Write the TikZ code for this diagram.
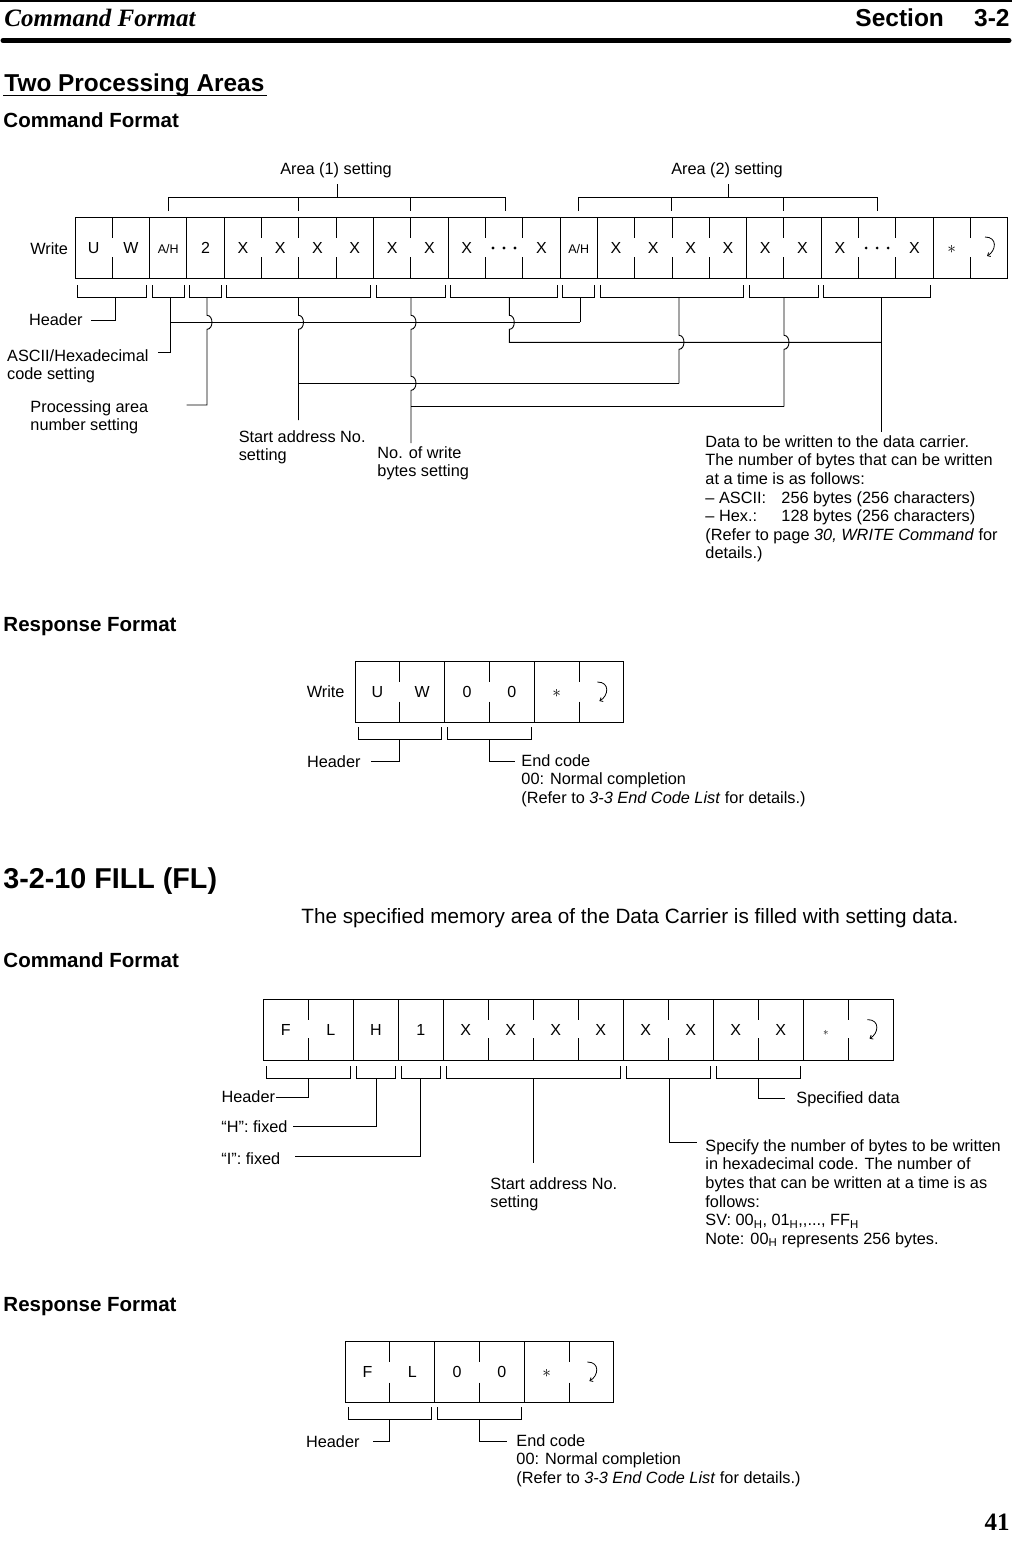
\documentclass[tikz,border=0pt]{standalone}
\usepackage{fontspec}
\setmainfont{Liberation Sans}
\newfontfamily\timesfam{Liberation Serif}
\usetikzlibrary{arrows.meta}
\newcommand\lblfont{\fontsize{16.3}{18.6}\selectfont}
\newcommand\cellfont{\fontsize{16}{18}\selectfont}
\newcommand\ahfont{\fontsize{12.5}{14}\selectfont}
\newcommand\headfont{\fontsize{20.5}{24}\selectfont\bfseries}
\newcommand\bump[2]{-- ({#1},{#2-7}) .. controls ({#1+6.6},{#2-7}) and ({#1+6.6},{#2+7}) .. ({#1},{#2+7})}
\newcommand\retsym[2]{\draw[retarrow] ({#1-4},{#2-10}) .. controls ({#1+9},{#2-10}) and ({#1+7},{#2+4}) .. ({#1-2},{#2+9});}
\begin{document}
\begin{tikzpicture}[x=1pt,y=-1pt,line width=0.9pt,
  cell/.style={inner sep=0pt,text height=11.5pt,text depth=0pt,font=\cellfont},
  lbl/.style={inner sep=0pt,font=\lblfont,align=left,anchor=north west},
  slbl/.style={inner sep=0pt,font=\lblfont},
  head/.style={inner sep=0pt,font=\headfont,anchor=base west},
  retarrow/.style={line width=0.8pt,-{Straight Barb[length=2.5pt,width=4.5pt]}}]
\useasboundingbox (0,0) rectangle (1012,1558);

% ---------- page header ----------
\draw[line width=2pt] (0,1) -- (1012,1);
\node[anchor=base west,inner sep=0pt,font=\fontsize{25}{28}\selectfont\timesfam\bfseries\itshape] (pghead) at (4,26.3) {Command Format};
\node[anchor=base west,inner sep=0pt,font=\fontsize{24.5}{28}\selectfont\bfseries] (sect) at (855,26.6) {Section};
\node[anchor=base east,inner sep=0pt,font=\fontsize{24.5}{28}\selectfont\bfseries] (sectno) at (1010,26.6) {3-2};
\draw[line width=5pt,line cap=round] (3,40.5) -- (1009,40.5);

\node[anchor=base west,inner sep=0pt,font=\fontsize{24.4}{28}\selectfont\bfseries] (two) at (4,91.7) {Two Processing Areas};
\draw[line width=1.6pt] (3,95.5) -- (267,95.5);
\node[head] (cf1) at (3,127.3) {Command Format};

% ---------- top command row ----------
\node[slbl,anchor=base east] (wr1) at (68.5,254.8) {Write};
\draw (75,217) rectangle (1007.75,278);
\foreach \k in {2,3,4,8,10,13,14,18,20,23}
  \draw ({75+37.31*\k},217) -- ++(0,61);
\foreach \k in {1,5,6,7,9,11,12,15,16,17,19,21,22,24}
  \draw ({75+37.31*\k},217) -- ++(0,21) ({75+37.31*\k},257) -- ++(0,21);
\foreach \t [count=\i from 0] in {U,W,{\ahfont A/H},2,X,X,X,X,X,X,X,{},X,{\ahfont A/H},X,X,X,X,X,X,X,{},X,{$\ast$},{}}
  \node[cell] (t\i) at ({75+37.31*(\i+0.5)},248) {\t};
\foreach \c in {504.0,877.1}
  \foreach \d in {-11,0,11}
    \fill ({\c+\d},248) circle (1.6);
\retsym{989}{247}

% area brackets above
\node[slbl,anchor=base] (area1) at (336,174.8) {Area (1) setting};
\draw (168,211) -- (168,197.7) -- (505,197.7) -- (505,211);
\draw (298.7,197.7) -- (298.7,211) (410.7,197.7) -- (410.7,211);
\draw (337.7,197.7) -- (337.7,184.3);
\node[slbl,anchor=base] (area2) at (727,174.8) {Area (2) setting};
\draw (578.3,211) -- (578.3,197.7) -- (877.3,197.7) -- (877.3,211);
\draw (671.3,197.7) -- (671.3,211) (783.7,197.7) -- (783.7,211);
\draw (728.3,197.7) -- (728.3,184.3);

% lower brackets
\foreach \a/\b in {0/2,2/3,3/4,4/8,8/10,10/13,13/14,14/18,18/20,20/23}
  \draw ({75+37.31*\a+2.7},285) -- ({75+37.31*\a+2.7},297.7) -- ({75+37.31*\b-2.7},297.7) -- ({75+37.31*\b-2.7},285);

% stem coordinates
\coordinate (sHdr) at (115,297.7);
\coordinate (sAH1) at (170,297.7);
\coordinate (sPA) at (207,297.7);
\coordinate (sSA1) at (298.5,297.7);
\coordinate (sNB1) at (411,297.7);
\coordinate (sDT1) at (509.3,297.7);
\coordinate (sAH2) at (580,297.7);
\coordinate (sSA2) at (679,297.7);
\coordinate (sNB2) at (784,297.7);
\coordinate (sDT2) at (881.7,297.7);

% labels
\node[slbl,anchor=base east] (lHdr) at (83,325.8) {Header};
\node[lbl] (lAH) at (6.7,347.8) {\strut ASCII/Hexadecimal\\code setting};
\node[lbl] (lPA) at (30,398.8) {\strut Processing area\\number setting};
\node[lbl] (lSA) at (238.3,428.8) {\strut Start address No.\\setting};
\node[lbl] (lNB) at (377,444.8) {\strut No. of write\\bytes setting};
\node[lbl] (lDT) at (705,433.8) {\strut Data to be written to the data carrier.\\
The number of bytes that can be written\\
at a time is as follows:\\
\makebox[76pt][l]{-- ASCII:}256 bytes (256 characters)\\
\makebox[76pt][l]{-- Hex.:}128 bytes (256 characters)\\
(Refer to page \textit{30, WRITE Command} for\\
details.)};

% connectors
\draw (sHdr) |- (90.7,320.7);
\draw (sAH1) |- (158.3,352.7);
\draw (170,322.3) -- (580,322.3);
\draw (sAH2) -- (580,322.3);
\draw (sPA) \bump{207}{322.3} -- (207,405) -- (186.7,405);
\draw (sSA1) \bump{298.5}{322.3} -- (298.5,420);
\draw (sNB1) \bump{411}{322.3} \bump{411}{383.3} -- (411,443);
\draw (sDT1) \bump{509.3}{322.3} -- (509.3,342.3) -- (881.7,342.3);
\draw (298.5,383.3) -- (679,383.3);
\draw (sSA2) \bump{679}{342.3} -- (679,383.3);
\draw (411,406.7) -- (784,406.7);
\draw (sNB2) \bump{784}{342.3} -- (784,406.7);
\draw (sDT2) -- (881.7,431.7);

% ---------- response format 1 ----------
\node[head] (rf1) at (3,631.3) {Response Format};
\node[slbl,anchor=base east] (wr2) at (345,697.8) {Write};
\draw (355,661.7) rectangle (623.8,722.3);
\foreach \k in {2,4} \draw ({355+44.8*\k},661.7) -- ++(0,60.6);
\foreach \k in {1,3,5} \draw ({355+44.8*\k},661.7) -- ++(0,20) ({355+44.8*\k},701.7) -- ++(0,20.6);
\foreach \t [count=\i from 0] in {U,W,0,0,{$\ast$},{}}
  \node[cell] (r\i) at ({355+44.8*(\i+0.5)},692) {\t};
\retsym{601.4}{692}
\foreach \a/\b in {0/2,2/4}
  \draw ({355+44.8*\a+3},727.3) -- ({355+44.8*\a+3},739.3) -- ({355+44.8*\b-3},739.3) -- ({355+44.8*\b-3},727.3);
\coordinate (rsH) at (399.8,739.3);
\coordinate (rsE) at (489.4,739.3);
\node[slbl,anchor=base east] (rHdr) at (361,767.8) {Header};
\node[lbl] (rEnd) at (521,752.8) {\strut End code\\00: Normal completion\\(Refer to \textit{3-3 End Code List} for details.)};
\draw (rsH) |- (370.7,761);
\draw (rsE) |- (515.4,761);

% ---------- FILL ----------
\node[anchor=base west,inner sep=0pt,font=\fontsize{28.7}{32}\selectfont\bfseries] (fill) at (3,888.3) {3-2-10 FILL (FL)};
\node[anchor=base west,inner sep=0pt,font=\fontsize{20.7}{24}\selectfont] (body) at (301,923.4) {The specified memory area of the Data Carrier is filled with setting data.};
\node[head] (cf2) at (3,967.3) {Command Format};

\draw (263.3,999.3) rectangle (893.3,1060);
\foreach \k in {2,3,4,8,10,12} \draw ({263.3+45*\k},999.3) -- ++(0,60.7);
\foreach \k in {1,5,6,7,9,11,13} \draw ({263.3+45*\k},999.3) -- ++(0,20.7) ({263.3+45*\k},1038.3) -- ++(0,21.7);
\foreach \t [count=\i from 0] in {F,L,H,1,X,X,X,X,X,X,X,X,{$\scriptstyle\ast$},{}}
  \node[cell] (f\i) at ({263.3+45*(\i+0.5)},1029.6) {\t};
\retsym{871.5}{1029.6}
\foreach \a/\b in {0/2,2/3,3/4,4/8,8/10,10/12}
  \draw ({263.3+45*\a+3},1066) -- ({263.3+45*\a+3},1078.3) -- ({263.3+45*\b-3},1078.3) -- ({263.3+45*\b-3},1066);
\coordinate (fsH) at (308.3,1078.3);
\coordinate (fsHf) at (376,1078.3);
\coordinate (fsIf) at (420.7,1078.3);
\coordinate (fsSA) at (533.3,1078.3);
\coordinate (fsNB) at (669,1078.3);
\coordinate (fsDT) at (758.3,1078.3);
\node[slbl,anchor=base east] (fHdr) at (275.5,1102.8) {Header};
\node[slbl,anchor=base west] (fH) at (221,1132.8) {“H”: fixed};
\node[slbl,anchor=base west] (fI) at (221,1164.8) {“I”: fixed};
\node[lbl] (fSA) at (490,1175.8) {\strut Start address No.\\setting};
\node[slbl,anchor=base west] (fDT) at (796,1103.8) {Specified data};
\node[lbl] (fNB) at (705,1137.8) {\strut Specify the number of bytes to be written\\
in hexadecimal code. The number of\\
bytes that can be written at a time is as\\
follows:\\
SV: 00\textsubscript{H}, 01\textsubscript{H},{},..., FF\textsubscript{H}\\
Note: 00\textsubscript{H} represents 256 bytes.};
\draw (fsH) |- (276,1097.3);
\draw (fsHf) |- (293.3,1126.7);
\draw (fsIf) |- (295,1156.7);
\draw (fsSA) -- (533.3,1163.3);
\draw (fsNB) |- (696.7,1142.7);
\draw (fsDT) |- (785,1098.3);

% ---------- FILL response ----------
\node[head] (rf2) at (3,1311.3) {Response Format};
\draw (345,1341.7) rectangle (613.8,1402.3);
\foreach \k in {2,4} \draw ({345+44.8*\k},1341.7) -- ++(0,60.6);
\foreach \k in {1,3,5} \draw ({345+44.8*\k},1341.7) -- ++(0,20.6) ({345+44.8*\k},1382.7) -- ++(0,19.6);
\foreach \t [count=\i from 0] in {F,L,0,0,{$\ast$},{}}
  \node[cell] (g\i) at ({345+44.8*(\i+0.5)},1372) {\t};
\retsym{591.4}{1372}
\foreach \a/\b in {0/2,2/4}
  \draw ({345+44.8*\a+3},1407.3) -- ({345+44.8*\a+3},1419.3) -- ({345+44.8*\b-3},1419.3) -- ({345+44.8*\b-3},1407.3);
\coordinate (gsH) at (389.8,1419.3);
\coordinate (gsE) at (479.4,1419.3);
\node[slbl,anchor=base east] (gHdr) at (360,1447.8) {Header};
\node[lbl] (gEnd) at (516,1432.8) {\strut End code\\00: Normal completion\\(Refer to \textit{3-3 End Code List} for details.)};
\draw (gsH) |- (372.7,1441.7);
\draw (gsE) |- (506.7,1441.7);

\node[anchor=base east,inner sep=0pt,font=\fontsize{25}{28}\selectfont\timesfam\bfseries] (pgno) at (1010,1530.3) {41};
\end{tikzpicture}
\end{document}
